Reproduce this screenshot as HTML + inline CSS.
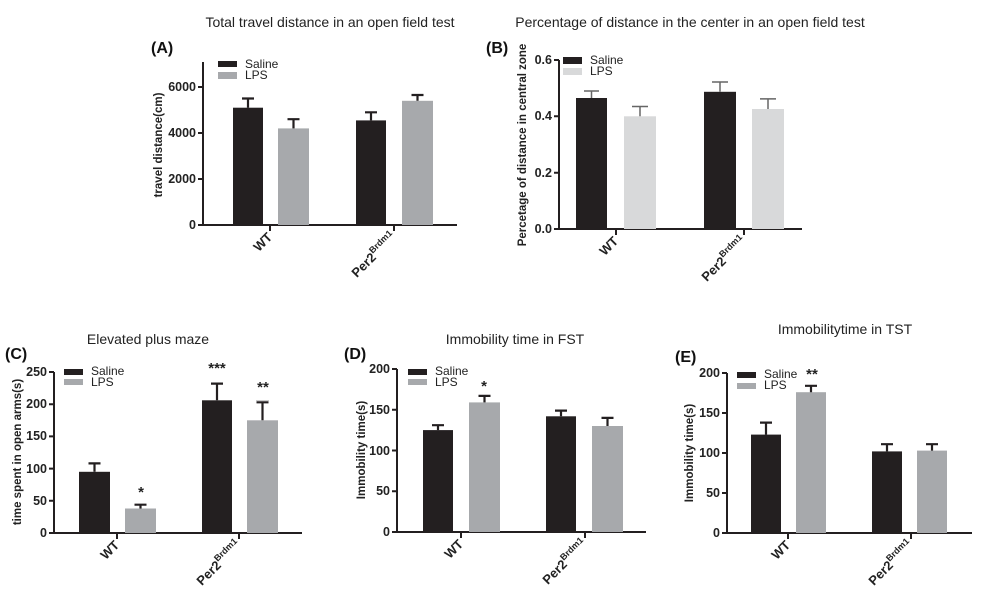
<!DOCTYPE html>
<html><head><meta charset="utf-8"><style>
html,body{margin:0;padding:0;background:#fff;}
svg{display:block;font-family:"Liberation Sans",Arial,sans-serif;}
.t{font-size:14px;fill:#222;text-anchor:middle}
.p{font-size:16px;font-weight:bold;fill:#111}
.tk{font-size:12.5px;font-weight:bold;fill:#222;text-anchor:end}
.yl{font-size:11.5px;font-weight:bold;fill:#222;text-anchor:middle}
.xl{font-size:13px;font-weight:bold;fill:#222;text-anchor:end}
.lg{font-size:12px;fill:#222}
.st{font-size:15px;font-weight:bold;fill:#222;text-anchor:middle}
.ax{stroke:#231f20;stroke-width:2;fill:none}
.eb{stroke:#231f20;stroke-width:2.2;fill:none}
.ebl{stroke:#666;stroke-width:1.5;fill:none}
</style></head><body>
<svg width="1005" height="597" viewBox="0 0 1005 597">
<text class="t" x="330" y="27">Total travel distance in an open field test</text>
<text class="p" x="151" y="53">(A)</text>
<text class="yl" transform="translate(162,145) rotate(-90)">travel distance(cm)</text>
<path class="ax" d="M203,62 V225 H457 M198,225 H203 M198,179 H203 M198,133 H203 M198,87 H203 M270,225 v6 M394,225 v6"/>
<text class="tk" x="196" y="229">0</text><text class="tk" x="196" y="183">2000</text><text class="tk" x="196" y="137">4000</text><text class="tk" x="196" y="91">6000</text>
<rect x="233" y="107.7" width="30" height="117.3" fill="#231f20"/>
<rect x="278" y="128.4" width="31" height="96.6" fill="#a7a9ac"/>
<rect x="356" y="120.4" width="30" height="104.6" fill="#231f20"/>
<rect x="402" y="100.8" width="31" height="124.2" fill="#a7a9ac"/>
<path class="eb" d="M248,107.7 V98.5 M242,98.5 H254 M293.5,128.4 V119.2 M287.5,119.2 H299.5 M371,120.4 V112.3 M365,112.3 H377 M417.5,100.8 V95 M411.5,95 H423.5"/>
<rect x="218" y="61" width="19" height="6" fill="#231f20"/><rect x="218" y="72" width="19" height="7" fill="#a7a9ac"/>
<text class="lg" x="245" y="68">Saline</text><text class="lg" x="245" y="79">LPS</text>
<text class="xl" transform="translate(273,238) rotate(-45)">WT</text>
<text class="xl" transform="translate(397,238) rotate(-45)">Per2<tspan font-size="9" dy="-6">Brdm1</tspan></text>

<text class="t" x="690" y="27">Percentage of distance in the center  in an open field test</text>
<text class="p" x="486" y="53">(B)</text>
<text class="yl" transform="translate(526,145) rotate(-90)">Percetage of distance in central zone</text>
<path class="ax" d="M559,60 V229 H802 M554,229 H559 M554,172.7 H559 M554,116.3 H559 M554,60 H559 M616,229 v6 M744,229 v6"/>
<text class="tk" x="552" y="233">0.0</text><text class="tk" x="552" y="177">0.2</text><text class="tk" x="552" y="120">0.4</text><text class="tk" x="552" y="64">0.6</text>
<rect x="576" y="98" width="31" height="131" fill="#231f20"/>
<rect x="624" y="116.3" width="32" height="112.7" fill="#d8d9da"/>
<rect x="704" y="91.8" width="32" height="137.2" fill="#231f20"/>
<rect x="752" y="109" width="32" height="120" fill="#d8d9da"/>
<path class="ebl" d="M591.5,98 V91 M584,91 H599 M640,116.3 V106.5 M632,106.5 H648 M720,91.8 V82 M712,82 H728 M768,109 V98.9 M760,98.9 H776"/>
<rect x="563" y="57" width="19" height="7" fill="#231f20"/><rect x="563" y="68" width="19" height="7" fill="#d8d9da"/>
<text class="lg" x="590" y="64">Saline</text><text class="lg" x="590" y="75">LPS</text>
<text class="xl" transform="translate(619,242) rotate(-45)">WT</text>
<text class="xl" transform="translate(747,242) rotate(-45)">Per2<tspan font-size="9" dy="-6">Brdm1</tspan></text>

<text class="t" x="148" y="344">Elevated plus maze</text>
<text class="p" x="5" y="359">(C)</text>
<text class="yl" transform="translate(21,452) rotate(-90)">time spent in open arms(s)</text>
<path class="ax" d="M54,372 V533 H302 M49,533 H54 M49,500.8 H54 M49,468.6 H54 M49,436.4 H54 M49,404.2 H54 M49,372 H54 M117,533 v6 M239,533 v6"/>
<text class="tk" x="47" y="537">0</text><text class="tk" x="47" y="505">50</text><text class="tk" x="47" y="473">100</text><text class="tk" x="47" y="440">150</text><text class="tk" x="47" y="408">200</text><text class="tk" x="47" y="376">250</text>
<rect x="79" y="471.8" width="31" height="61.2" fill="#231f20"/>
<rect x="125" y="508.5" width="31" height="24.5" fill="#a7a9ac"/>
<rect x="202" y="400.3" width="30" height="132.7" fill="#231f20"/>
<rect x="247" y="420.3" width="31" height="112.7" fill="#a7a9ac"/>
<path class="eb" d="M94.5,471.8 V463.4 M88.5,463.4 H100.5 M140.5,508.5 V504.7 M134.5,504.7 H146.5 M217,400.3 V383.6 M211,383.6 H223 M262.5,420.3 V402.3 M256.5,402.3 H268.5"/>
<path d="M256,400.5 H269" stroke="#ccc" stroke-width="1"/>
<rect x="64" y="369" width="19" height="6" fill="#231f20"/><rect x="64" y="379" width="19" height="6" fill="#a7a9ac"/>
<text class="lg" x="91" y="375">Saline</text><text class="lg" x="91" y="386">LPS</text>
<text class="st" x="141" y="497">*</text><text class="st" x="217" y="373">***</text><text class="st" x="263" y="392">**</text>
<text class="xl" transform="translate(120,546) rotate(-45)">WT</text>
<text class="xl" transform="translate(242,546) rotate(-45)">Per2<tspan font-size="9" dy="-6">Brdm1</tspan></text>

<text class="t" x="515" y="344">Immobility time  in FST</text>
<text class="p" x="344" y="359">(D)</text>
<text class="yl" transform="translate(365,450) rotate(-90)">Immobility time(s)</text>
<path class="ax" d="M397,369 V532 H646 M392,532 H397 M392,491.25 H397 M392,450.5 H397 M392,409.75 H397 M392,369 H397 M461,532 v6 M585,532 v6"/>
<text class="tk" x="390" y="536">0</text><text class="tk" x="390" y="495">50</text><text class="tk" x="390" y="455">100</text><text class="tk" x="390" y="414">150</text><text class="tk" x="390" y="373">200</text>
<rect x="423" y="430.1" width="30" height="101.9" fill="#231f20"/>
<rect x="469" y="402.4" width="31" height="129.6" fill="#a7a9ac"/>
<rect x="546" y="416.3" width="30" height="115.7" fill="#231f20"/>
<rect x="592" y="426" width="31" height="106" fill="#a7a9ac"/>
<path class="eb" d="M438,430.1 V425.2 M432,425.2 H444 M484.5,402.4 V395.9 M478.5,395.9 H490.5 M561,416.3 V410.6 M555,410.6 H567 M607.5,426 V417.9 M601.5,417.9 H613.5"/>
<rect x="408" y="369" width="19" height="6" fill="#231f20"/><rect x="408" y="379" width="19" height="6" fill="#a7a9ac"/>
<text class="lg" x="435" y="375">Saline</text><text class="lg" x="435" y="386">LPS</text>
<text class="st" x="484" y="391">*</text>
<text class="xl" transform="translate(464,545) rotate(-45)">WT</text>
<text class="xl" transform="translate(588,545) rotate(-45)">Per2<tspan font-size="9" dy="-6">Brdm1</tspan></text>

<text class="t" x="845" y="334">Immobilitytime in TST</text>
<text class="p" x="675" y="362">(E)</text>
<text class="yl" transform="translate(693,453) rotate(-90)">Immobility time(s)</text>
<path class="ax" d="M727,373 V533 H972 M722,533 H727 M722,493 H727 M722,453 H727 M722,413 H727 M722,373 H727 M788,533 v6 M911,533 v6"/>
<text class="tk" x="720" y="537">0</text><text class="tk" x="720" y="497">50</text><text class="tk" x="720" y="457">100</text><text class="tk" x="720" y="417">150</text><text class="tk" x="720" y="377">200</text>
<rect x="751" y="434.6" width="30" height="98.4" fill="#231f20"/>
<rect x="796" y="392.2" width="30" height="140.8" fill="#a7a9ac"/>
<rect x="872" y="451.4" width="30" height="81.6" fill="#231f20"/>
<rect x="917" y="450.6" width="30" height="82.4" fill="#a7a9ac"/>
<path class="eb" d="M766,434.6 V422.6 M760,422.6 H772 M811,392.2 V385.8 M805,385.8 H817 M887,451.4 V444.2 M881,444.2 H893 M932,450.6 V444.2 M926,444.2 H938"/>
<rect x="737" y="372" width="19" height="6" fill="#231f20"/><rect x="737" y="383" width="19" height="6" fill="#a7a9ac"/>
<text class="lg" x="764" y="378">Saline</text><text class="lg" x="764" y="389">LPS</text>
<text class="st" x="812" y="379">**</text>
<text class="xl" transform="translate(791,546) rotate(-45)">WT</text>
<text class="xl" transform="translate(914,546) rotate(-45)">Per2<tspan font-size="9" dy="-6">Brdm1</tspan></text>
</svg>
</body></html>
